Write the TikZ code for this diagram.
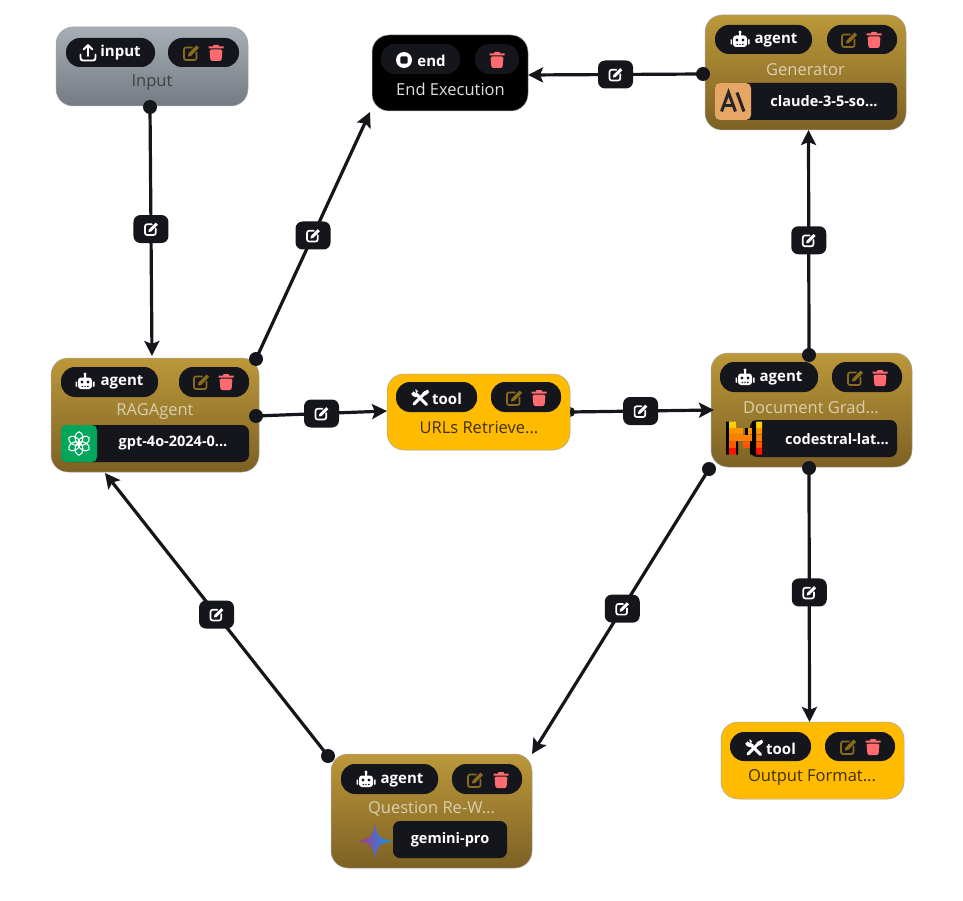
\documentclass[tikz,border=0pt]{standalone}
\usepackage{fontspec}
\usetikzlibrary{arrows.meta,calc,shapes.geometric}
\setmainfont{Open Sans}
\definecolor{ink}{HTML}{15161B}
\definecolor{goldtop}{HTML}{BC983A}
\definecolor{goldbot}{HTML}{7C6124}
\definecolor{greytop}{HTML}{A8AEB5}
\definecolor{greybot}{HTML}{747B83}
\definecolor{toolfill}{HTML}{FFBB00}
\definecolor{editgold}{HTML}{8A6A1C}
\definecolor{trashred}{HTML}{FF6B6F}
\definecolor{titlelight}{HTML}{DCCFAE}
\tikzset{
  x=1pt,y=-1pt,
  cardbase/.style={rounded corners=17pt,inner sep=0,outer sep=0,draw=black!35,line width=.5pt},
  agentcard/.style={cardbase,top color=goldtop,bottom color=goldbot,middle color=goldtop!50!goldbot},
  inputcard/.style={cardbase,top color=greytop,bottom color=greybot,middle color=greytop!50!greybot},
  toolcard/.style={cardbase,fill=toolfill},
  endcard/.style={cardbase,fill=black},
  pill/.style={fill=ink,rounded corners=14pt,inner sep=0,outer sep=0},
  modelpill/.style={fill=ink,rounded corners=7pt,inner sep=0,outer sep=0},
  badge/.style={text=white,font=\fontsize{15}{15}\selectfont\bfseries,inner sep=0},
  cardtitle/.style={font=\fontsize{16.5}{16.5}\selectfont,inner sep=0},
  modeltext/.style={text=white,font=\fontsize{14.5}{15}\selectfont\bfseries,inner sep=0},
  handle/.style={circle,fill=ink,minimum size=14pt,inner sep=0,outer sep=0},
  edgeline/.style={draw=ink,line width=3.2pt,-{Stealth[length=15pt,width=15pt,inset=3pt]}},
  edgebtn/.style={fill=ink,rounded corners=7pt,minimum width=35pt,minimum height=28pt,inner sep=0,outer sep=0},
  pics/editicon/.style={code={
    \draw[#1,line width=1.7pt,rounded corners=2pt,line cap=round] (1,-5.5) -- (-7,-5.5) -- (-7,7) -- (5.5,7) -- (5.5,-.5);
    \fill[#1] (-2.5,.5) -- (5.5,-7.5) -- (8,-5) -- (0,3) -- (-3,3.5) -- cycle;
  }},
  pics/trashicon/.style={code={
    \fill[trashred] (-7.5,-6.5) -- (-3,-6.5) -- (-2.5,-8) -- (2.5,-8) -- (3,-6.5) -- (7.5,-6.5) -- (7.5,-4.5) -- (-7.5,-4.5) -- cycle;
    \fill[trashred,rounded corners=1.5pt] (-6.5,-3.5) -- (6.5,-3.5) -- (5.5,8) -- (-5.5,8) -- cycle;
  }},
  pics/roboticon/.style={code={
    \fill[white,rounded corners=3pt] (-7,-4.5) rectangle (7,7);
    \fill[white] (-9.5,-.5) rectangle (-8,4.5) (8,-.5) rectangle (9.5,4.5) (-1,-8) rectangle (1,-4);
    \fill[white] (0,-8) circle (1.6);
    \fill[ink] (-3,0) circle (1.6) (3,0) circle (1.6);
    \fill[ink] (-3.5,3.8) rectangle (-2,5) (-.7,3.8) rectangle (.7,5) (2,3.8) rectangle (3.5,5);
  }},
  pics/uploadicon/.style={code={
    \draw[white,line width=1.9pt,line cap=round,line join=round] (0,3) -- (0,-7.5) (-4.5,-3.5) -- (0,-8) -- (4.5,-3.5);
    \draw[white,line width=1.9pt,line cap=round,rounded corners=2.5pt] (-7.5,1.5) -- (-7.5,7.5) -- (7.5,7.5) -- (7.5,1.5);
  }},
  pics/stopicon/.style={code={
    \fill[white] (0,0) circle (8);
    \fill[ink,rounded corners=1pt] (-3.6,-3.6) rectangle (3.6,3.6);
  }},
  pics/toolicon/.style={code={
    \draw[white,line width=3pt,line cap=round] (-5.5,-5.5) -- (6.5,6.5);
    \draw[white,line width=3pt,line cap=round] (5.5,-5.5) -- (-6,6);
    \fill[white] (-8.5,-5) arc (180:20:4.2) -- (-5,-5) -- cycle;
    \fill[white] (-4.2,-8.8) -- (-2,-6.5) -- (-6.5,-2) -- (-8.8,-4.2) -- cycle;
    \fill[white] (8,-8.5) -- (9,-5.5) -- (5.5,-2.5) -- (2.5,-5.5) -- cycle;
    \fill[ink] (-5,-9.5) -- (-4,-5) -- (-7,-7) -- cycle;
  }},
  pics/openailogo/.style={code={
    \foreach \a in {0,60,...,300}
      \draw[white,line width=1.1pt,rotate=\a] (0,-5.5) ellipse (3.8 and 6.2);
  }},
  pics/anthropiclogo/.style={code={
    \draw[black!85,line width=3pt,line join=miter] (-11.5,10) -- (-4.5,-9) -- (2.5,10);
    \draw[black!85,line width=2.6pt] (-8.5,4) -- (-.5,4);
    \draw[black!85,line width=3pt] (4,-9) -- (11,10);
  }},
  pics/mistrallogo/.style={code={
    \fill[black] (0,0) rectangle (3,33) (26,0) rectangle (30,33);
    \fill[black] (9,6) rectangle (12,6);
    \fill[yellow!70!orange] (3,0) rectangle (10,6.6) (30,0) rectangle (36,6.6);
    \fill[orange!85!yellow] (3,6.6) rectangle (17,13.2) (22,6.6) rectangle (36,13.2);
    \fill[orange] (3,13.2) rectangle (36,19.8);
    \fill[orange!70!red] (3,19.8) rectangle (10,26.4) (17,19.8) rectangle (24,26.4) (30,19.8) rectangle (36,26.4);
    \fill[red!85!orange] (3,26.4) rectangle (10,33) (30,26.4) rectangle (36,33);
    \fill[black] (10,19.8) rectangle (12,33) (24,19.8) rectangle (26,33) (26,0) rectangle (30,33);
    \fill[black] (19,6.6) rectangle (22,13.2);
  }},
}
\begin{document}
\begin{tikzpicture}
\useasboundingbox (0,0) rectangle (963,901);

% --- cards ---
\path[inputcard] (56,27) rectangle (248,106);
\node[inner sep=0,minimum width=192pt,minimum height=79pt,outer sep=0] (inputNode) at (152,66.5) {};
\node[inner sep=0,minimum width=156pt,minimum height=76pt,outer sep=0,endcard] (endNode) at (450,73) {};
\node[inner sep=0,minimum width=201pt,minimum height=115pt,outer sep=0,agentcard] (genNode) at (805.5,72.5) {};
\node[inner sep=0,minimum width=208pt,minimum height=114pt,outer sep=0,agentcard] (ragNode) at (155,415) {};
\node[circle,fill=ink,minimum size=10pt,inner sep=0] (hUrls) at (570,412) {};
\node[inner sep=0,minimum width=183pt,minimum height=76pt,outer sep=0,toolcard] (urlNode) at (478.5,412) {};
\node[inner sep=0,minimum width=201pt,minimum height=114pt,outer sep=0,agentcard] (docNode) at (811.5,410) {};
\node[inner sep=0,minimum width=183pt,minimum height=77pt,outer sep=0,toolcard] (outNode) at (812.5,760.5) {};
\node[inner sep=0,minimum width=201pt,minimum height=114pt,outer sep=0,agentcard] (qNode) at (431.5,811) {};

% --- input card content ---
\path[pill] (66,38) rectangle (155,67);
\path[pill] (168,38) rectangle (239,67);
\pic at (88,53) {uploadicon};
\node[badge] (inputBadge) at (120.5,53) {input};
\pic at (191,53) {editicon=editgold};
\pic at (216,53) {trashicon};
\node[cardtitle,text=black!75] (inputTitle) at (152,83) {Input};

% --- end card content ---
\path[pill] (381,44) rectangle (460,74);
\path[pill] (475,44) rectangle (519,74);
\pic at (404,60) {stopicon};
\node[badge] (endBadge) at (431.5,60.5) {end};
\pic at (497,60) {trashicon};
\node[cardtitle,text=white!88!black] (endTitle) at (450.5,89) {End Execution};

% --- generator card content ---
\path[pill] (715,25) rectangle (812,54);
\path[pill] (827,25) rectangle (897,54);
\pic at (740,40) {roboticon};
\node[badge] (genBadge) at (776,40.5) {agent};
\pic at (849,40) {editicon=editgold};
\pic at (874,40) {trashicon};
\node[cardtitle,text=titlelight] (genTitle) at (805.5,70) {Generator};
\path[modelpill] (715,83) rectangle (897,120);
\fill[fill=brown!55!orange!70!white,rounded corners=5pt] (715,83) rectangle (751,120);
\pic at (733,101.5) {anthropiclogo};
\node[modeltext] (genModel) at (824,101) {claude-3-5-so...};

% --- RAG agent card content ---
\path[pill] (61,367) rectangle (158,397);
\path[pill] (179,367) rectangle (249,397);
\pic at (85,382) {roboticon};
\node[badge] (ragBadge) at (122,382.5) {agent};
\pic at (201,382) {editicon=editgold};
\pic at (226,382) {trashicon};
\node[cardtitle,text=titlelight] (ragTitle) at (155,412) {RAGAgent};
\path[modelpill] (61,425) rectangle (249,462);
\fill[fill=teal!70!green,rounded corners=5pt] (61,425) rectangle (97,462);
\pic at (79,443.5) {openailogo};
\node[modeltext] (ragModel) at (173,443) {gpt-4o-2024-0...};

% --- URLs tool card content ---
\path[pill] (396,382) rectangle (477,412);
\path[pill] (491,382) rectangle (561,412);
\pic at (420,398) {toolicon};
\node[badge] (urlBadge) at (447,398.5) {tool};
\pic at (514,398) {editicon=editgold};
\pic at (539,398) {trashicon};
\node[cardtitle,text=black!75!toolfill] (urlTitle) at (479,428) {URLs Retrieve...};

% --- document grader card content ---
\path[pill] (720,362) rectangle (818,392);
\path[pill] (832,362) rectangle (902,392);
\pic at (745,378) {roboticon};
\node[badge] (docBadge) at (781,378.5) {agent};
\pic at (855,378) {editicon=editgold};
\pic at (880,378) {trashicon};
\node[cardtitle,text=titlelight] (docTitle) at (811,407) {Document Grad...};
\path[modelpill] (750,420) rectangle (897,457);
\pic at (726,421.5) {mistrallogo};
\node[modeltext] (docModel) at (837,439) {codestral-lat...};

% --- output tool card content ---
\path[pill] (730,732) rectangle (811,761);
\path[pill] (825,732) rectangle (895,761);
\pic at (754,748) {toolicon};
\node[badge] (outBadge) at (781,748.5) {tool};
\pic at (848,747) {editicon=editgold};
\pic at (873,747) {trashicon};
\node[cardtitle,text=black!75!toolfill] (outTitle) at (812,777) {Output Format...};

% --- question rewriter card content ---
\path[pill] (341,764) rectangle (438,794);
\path[pill] (452,764) rectangle (522,794);
\pic at (366,780) {roboticon};
\node[badge] (qBadge) at (402,780.5) {agent};
\pic at (475,780) {editicon=editgold};
\pic at (501,780) {trashicon};
\node[cardtitle,text=titlelight] (qTitle) at (431.5,809) {Question Re-W...};
\shade[left color=violet!70!red!80!white,right color=cyan!60!blue]
  (358,841) .. controls (370,839) and (373,836) .. (375,823)
  .. controls (377,836) and (380,839) .. (392,841)
  .. controls (380,843) and (377,846) .. (375,859)
  .. controls (373,846) and (370,843) .. (358,841) -- cycle;
\path[modelpill] (393,821) rectangle (507,858);
\node[modeltext] (qModel) at (450,840) {gemini-pro};

% --- source handles ---
\node[handle] (hInput) at (150,107) {};
\node[handle] (hRagUp) at (256,359) {};
\node[handle] (hRagOut) at (256,416) {};
\node[handle] (hGen) at (703,74) {};
\node[handle] (hDocUp) at (809,355) {};
\node[handle] (hDocDown) at (809,468) {};
\node[handle] (hDocLeft) at (709,469) {};
\node[handle] (hQ) at (328,756) {};

% --- connectors ---
\draw[edgeline] (hInput.center) -- node[edgebtn,pos=.49] (bInput) {} ([xshift=-3pt,yshift=2pt]ragNode.north);
\draw[edgeline] (hRagUp.center) -- node[edgebtn,pos=.5] (bRagEnd) {} ([xshift=-2pt,yshift=-1pt]endNode.south west);
\draw[edgeline] (hGen.center) -- node[edgebtn,pos=.5] (bGen) {} ([yshift=-2pt]endNode.east);
\draw[edgeline] (hRagOut.center) -- node[edgebtn,pos=.5] (bRagUrl) {} ([yshift=1pt]urlNode.west);
\draw[edgeline] (hUrls.center) -- node[edgebtn,pos=.49] (bUrlDoc) {} ([xshift=3pt]docNode.west);
\draw[edgeline] (hDocUp.center) -- node[edgebtn,pos=.51] (bDocGen) {} ([xshift=3pt]genNode.south);
\draw[edgeline] (hDocDown.center) -- node[edgebtn,pos=.49] (bDocOut) {} ([xshift=-3pt]outNode.north);
\draw[edgeline] (hDocLeft.center) -- node[edgebtn,pos=.49] (bDocQ) {} (qNode.north east);
\draw[edgeline] (hQ.center) -- node[edgebtn,pos=.5] (bQRag) {} ([xshift=-50pt,yshift=-1pt]ragNode.south);

% --- edit glyphs on the connector buttons ---
\foreach \b in {bInput,bRagEnd,bGen,bRagUrl,bUrlDoc,bDocGen,bDocOut,bDocQ,bQRag}
  \pic[scale=.85] at (\b) {editicon=white};
\end{tikzpicture}
\end{document}
